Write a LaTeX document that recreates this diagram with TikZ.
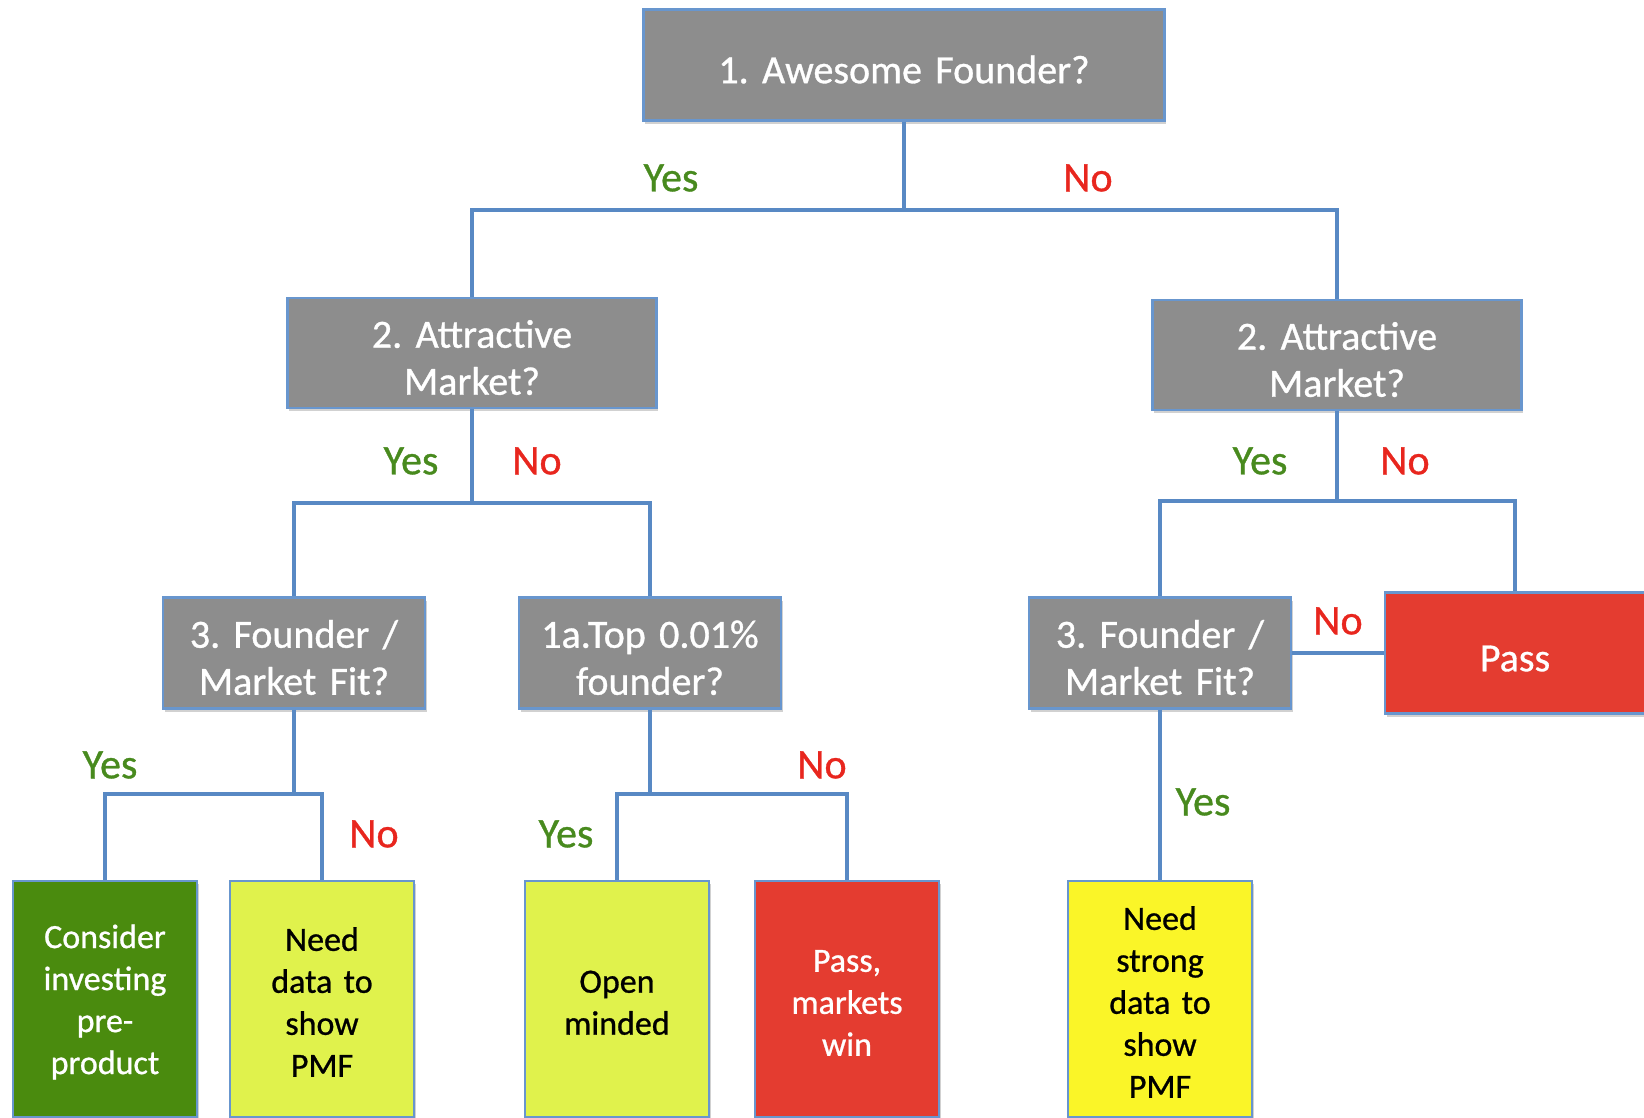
\documentclass[tikz,border=0pt]{standalone}
\usepackage{fontspec}
\setmainfont{Carlito}[FakeBold=0.8]
\frenchspacing
\usetikzlibrary{shadows}
\definecolor{linkblue}{RGB}{88,137,196}
\definecolor{edgeblue}{RGB}{104,150,206}
\definecolor{qgray}{RGB}{141,141,141}
\definecolor{gogreen}{RGB}{74,139,14}
\definecolor{limey}{RGB}{224,242,76}
\definecolor{stopred}{RGB}{228,60,48}
\definecolor{brightyel}{RGB}{250,245,40}
\definecolor{yestxt}{RGB}{72,138,30}
\definecolor{notxt}{RGB}{232,38,30}

% taller first line: pushes the box text a few points down
\newcommand{\dropline}[1]{\raisebox{#1}{\vphantom{d}}}

\begin{document}
\begin{tikzpicture}[x=1pt,y=-1pt,
  box/.style={draw=edgeblue, line width=2.2pt, align=center, inner sep=0pt,
    drop shadow={shadow xshift=1.5pt, shadow yshift=-3pt, opacity=.3, fill=black!60}},
  question/.style={box, fill=qgray, text=white, font=\fontsize{40}{47}\selectfont,
    execute at begin node={\dropline{9pt}}},
  level2/.style={question, minimum width=369pt, minimum height=110pt, text width=350pt,
    execute at begin node={\dropline{7pt}}},
  level3/.style={question, minimum width=262pt, minimum height=111pt, text width=250pt},
  leaf/.style={box, minimum width=184pt, minimum height=236pt, text width=170pt,
    font=\fontsize{34}{42}\selectfont, execute at begin node={\dropline{6pt}}},
  link/.style={draw=linkblue, line width=4.8pt},
  yes/.style={text=yestxt, font=\fontsize{42}{50}\selectfont},
  no/.style={text=notxt, font=\fontsize{42}{50}\selectfont}]

\useasboundingbox (0,0) rectangle (1644,1117);
\clip (0,0) rectangle (1644,1117);

% decision boxes
\node[question, minimum width=521pt, minimum height=111pt, text width=500pt] (root) at (904,65) {1. Awesome Founder?};
\node[level2] (amL) at (472,353) {2. Attractive\\Market?};
\node[level2] (amR) at (1337,355) {2. Attractive\\Market?};
\node[level3] (fitL) at (294,653) {3. Founder /\\Market Fit?};
\node[level3] (top) at (650,653) {1a.Top 0.01\%\\founder?};
\node[level3] (fitR) at (1160,653) {3. Founder /\\Market Fit?};
\node[question, fill=stopred, minimum width=260pt, minimum height=121pt, text width=240pt,
      execute at begin node={\dropline{4pt}}] (pass) at (1515,653) {Pass};

% outcome boxes
\node[leaf, fill=gogreen, text=white] (consider) at (105,999) {Consider\\investing\\pre-\\product};
\node[leaf, fill=limey] (needdata) at (322,999) {Need\\data to\\show\\PMF};
\node[leaf, fill=limey] (open) at (617,999) {Open\\minded};
\node[leaf, fill=stopred, text=white] (passwin) at (847,999) {Pass,\\markets\\win};
\node[leaf, fill=brightyel] (strong) at (1160,999) {Need\\strong\\data to\\show\\PMF};

% junctions
\coordinate (j0) at (904,210);
\coordinate (j1) at (472,503);
\coordinate (j2) at (1337,501);
\coordinate (j3) at (294,794);
\coordinate (j4) at (650,794);

% connectors
\draw[link] (root.south) -- (j0) -| (amL.north);
\draw[link] (j0) -| (amR.north);
\draw[link] (amL.south) -- (j1) -| (fitL.north);
\draw[link] (j1) -| (top.north);
\draw[link] (amR.south) -- (j2) -| (fitR.north);
\draw[link] (j2) -| (pass.north);
\draw[link] (fitR.east) -- (pass.west);
\draw[link] (fitL.south) -- (j3) -| (consider.north);
\draw[link] (j3) -| (needdata.north);
\draw[link] (top.south) -- (j4) -| (open.north);
\draw[link] (j4) -| (passwin.north);
\draw[link] (fitR.south) -- (strong.north);

% branch labels
\node[yes] (y1) at (671,178) {Yes};
\node[no]  (n1) at (1088,178) {No};
\node[yes] (y2) at (411,461) {Yes};
\node[no]  (n2) at (537,461) {No};
\node[yes] (y3) at (1260,461) {Yes};
\node[no]  (n3) at (1405,461) {No};
\node[no]  (n4) at (1338,621) {No};
\node[yes] (y4) at (110,765) {Yes};
\node[no]  (n5) at (374,834) {No};
\node[yes] (y5) at (566,834) {Yes};
\node[no]  (n6) at (822,765) {No};
\node[yes] (y6) at (1203,802) {Yes};
\end{tikzpicture}
\end{document}
